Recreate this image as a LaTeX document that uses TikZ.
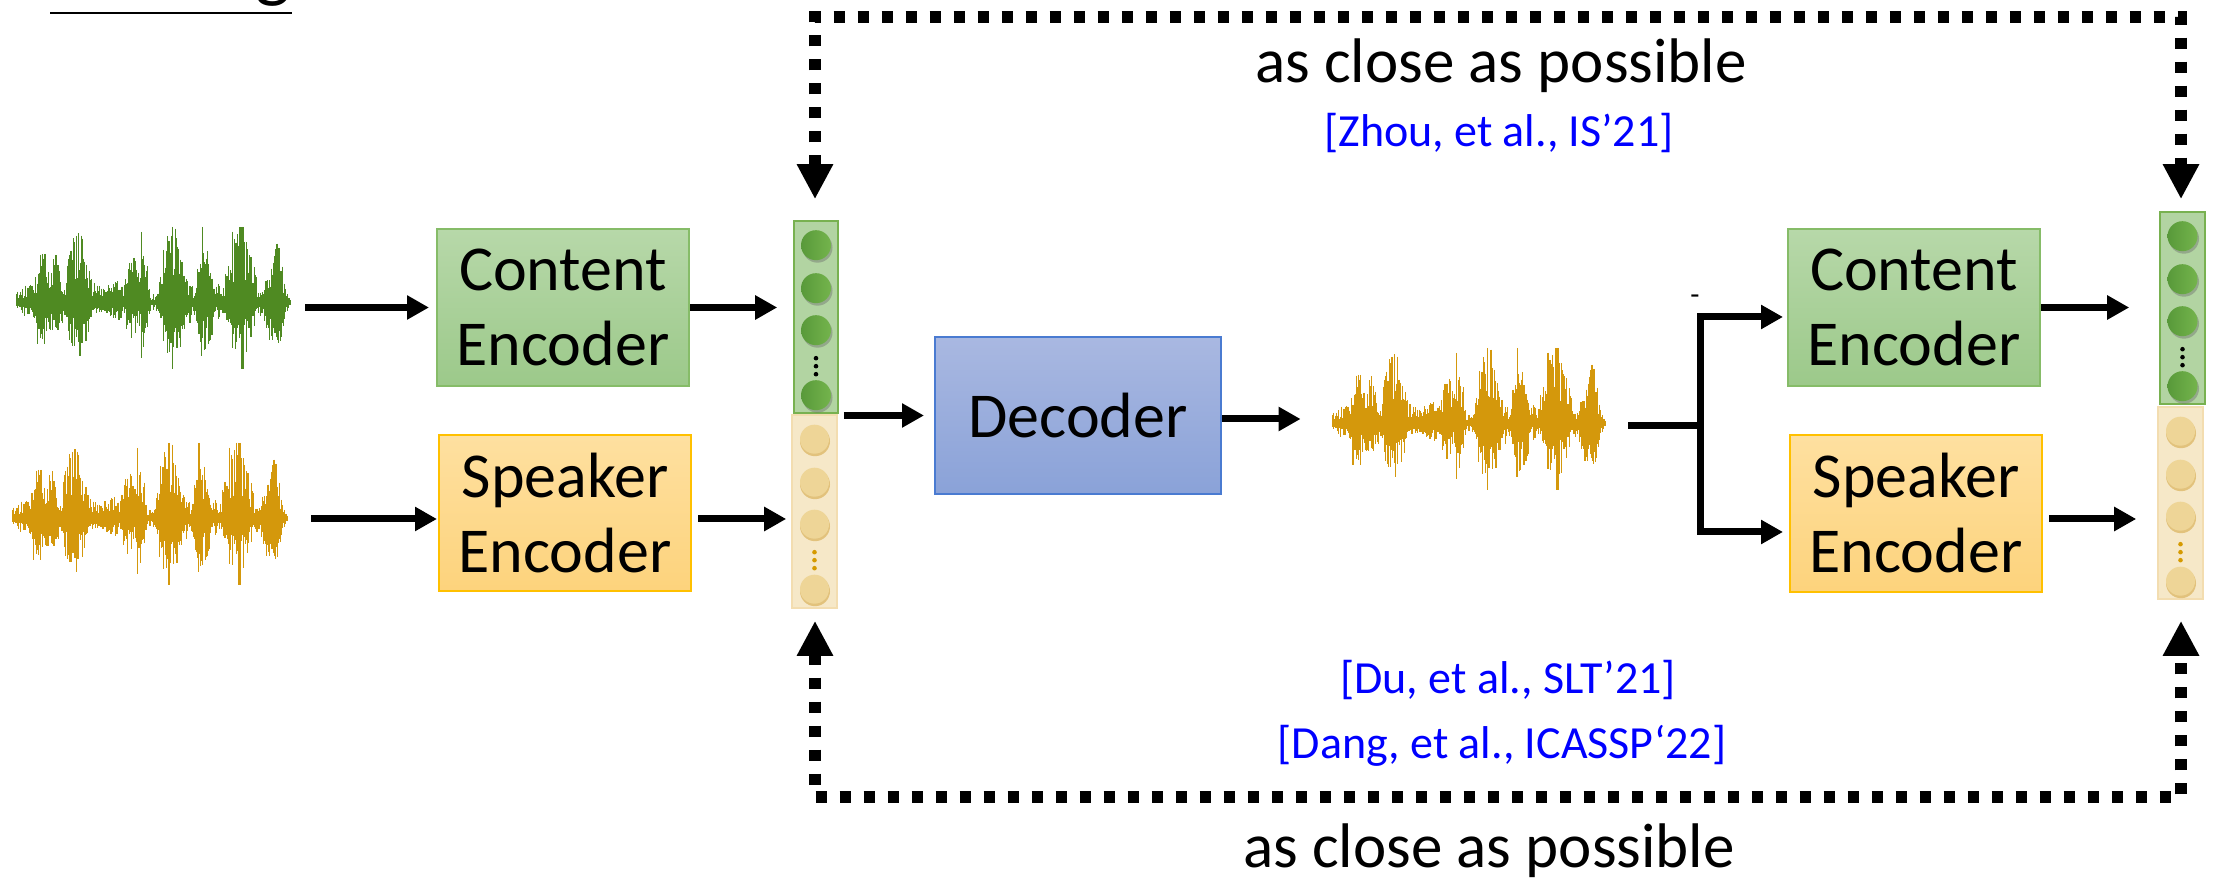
\documentclass[tikz,border=0pt]{standalone}
\usepackage{fontspec}
\setmainfont{Carlito}
\usetikzlibrary{arrows.meta,calc}

\definecolor{cencT}{HTML}{B7D8A9}
\definecolor{cencB}{HTML}{9CC98A}
\definecolor{cencL}{HTML}{86BC68}
\definecolor{sencT}{HTML}{FEE0A0}
\definecolor{sencB}{HTML}{FDD37C}
\definecolor{sencL}{HTML}{FFC000}
\definecolor{decT}{HTML}{A9B8E1}
\definecolor{decB}{HTML}{8AA2D8}
\definecolor{decL}{HTML}{4A7BD1}
\definecolor{vecGF}{HTML}{B2D4A2}
\definecolor{vecGL}{HTML}{78B150}
\definecolor{vecYF}{HTML}{F6E8C8}
\definecolor{vecYL}{HTML}{F3DDB0}
\definecolor{cellGl}{HTML}{58993A}
\definecolor{cellGr}{HTML}{74B44C}
\definecolor{cellY}{HTML}{EED597}
\definecolor{cellYd}{HTML}{E2C27C}
\definecolor{dotY}{HTML}{D69A00}
\definecolor{waveG}{HTML}{4F8A22}
\definecolor{waveY}{HTML}{D4980C}
\definecolor{citeblue}{HTML}{0000FF}

% envelope of the speech waveform, t in [0,1]
\pgfmathdeclarefunction{bmp}{3}{\pgfmathparse{max(0,1-((#1-#2)/#3)*((#1-#2)/#3))}}
\pgfmathdeclarefunction{wenv}{1}{\pgfmathparse{0.10
  +0.14*bmp(#1,0.05,0.06)+0.55*bmp(#1,0.10,0.035)+0.50*bmp(#1,0.145,0.025)
  +0.85*bmp(#1,0.225,0.055)+0.14*bmp(#1,0.30,0.03)+0.22*bmp(#1,0.36,0.04)
  +0.55*bmp(#1,0.42,0.03)+0.52*bmp(#1,0.465,0.025)+0.90*bmp(#1,0.57,0.06)
  +0.14*bmp(#1,0.635,0.02)+0.70*bmp(#1,0.69,0.042)+0.14*bmp(#1,0.745,0.02)
  +0.90*bmp(#1,0.82,0.06)+0.14*bmp(#1,0.885,0.02)+0.70*bmp(#1,0.945,0.042)}}

% #1 left x, #2 centre line y, #3 width, #4 colour
\newcommand\drawwave[4]{%
  \pgfmathsetseed{17}%
  \foreach \wi in {0,...,420}{%
    \pgfmathsetmacro\wt{\wi/420}%
    \pgfmathsetmacro\we{wenv(\wt)}%
    \pgfmathsetmacro\ra{rnd}%
    \pgfmathsetmacro\rb{rnd}%
    \pgfmathsetmacro\rc{rnd}%
    \pgfmathsetmacro\wsp{(\rc>0.94) ? 1.8 : 1}%
    \pgfmathsetmacro\wup{76*min(1,\we*(0.3+0.6*\ra*\ra+0.15*\ra)*\wsp)}%
    \pgfmathsetmacro\wdn{66*min(1,0.85*\we*(0.3+0.6*\rb*\rb+0.15*\rb)*\wsp)}%
    \draw[#4, line width=0.6pt] (#1+\wt*#3, #2-\wup) -- (#1+\wt*#3, #2+\wdn);
  }%
}

% cells of an embedding vector, placed below the node's top edge
\newcommand\greencells[1]{%
  \foreach \o in {25,68,110,175}{%
    \fill[black!60, opacity=0.4] ($(#1.north)+(1.5,\o+2.5)$) circle[radius=15];
    \shade[left color=cellGl, right color=cellGr] ($(#1.north)+(0,\o)$) circle[radius=15];
  }%
  \foreach \o in {138,146,154}{\fill[black] ($(#1.north)+(0,\o)$) circle[radius=2.3];}%
}
\newcommand\yellowcells[1]{%
  \foreach \o in {25,68,110,175}{%
    \fill[cellYd] ($(#1.north)+(0.5,\o+2)$) circle[radius=15];
    \fill[cellY] ($(#1.north)+(0,\o)$) circle[radius=14.5];
  }%
  \foreach \o in {138,146,154}{\fill[dotY] ($(#1.north)+(0,\o)$) circle[radius=2.3];}%
}

\begin{document}
\begin{tikzpicture}[x=0.5pt, y=-0.5pt,
  boxtext/.style={font=\fontsize{32}{37.5}\selectfont, align=center},
  encbox/.style={rectangle, line width=1pt, inner sep=0pt, boxtext},
  cbox/.style={encbox, draw=cencL, top color=cencT, bottom color=cencB},
  sbox/.style={encbox, draw=sencL, top color=sencT, bottom color=sencB},
  dbox/.style={encbox, draw=decL, top color=decT, bottom color=decB},
  gvec/.style={rectangle, draw=vecGL, fill=vecGF, line width=0.8pt, inner sep=0pt},
  yvec/.style={rectangle, draw=vecYL, fill=vecYF, line width=0.8pt, inner sep=0pt},
  wavebox/.style={rectangle, inner sep=0pt},
  arr/.style={line width=3.5pt, -{Triangle[length=11pt,width=11.5pt]}},
  bar/.style={line width=3.5pt},
  closeloop/.style={line width=6pt, dash pattern=on 5.75pt off 6.25pt,
    {Triangle[length=17.5pt,width=17pt]}-{Triangle[length=17.5pt,width=17pt]}},
  bigtext/.style={font=\fontsize{31.5}{36}\selectfont, inner sep=0pt},
  cite/.style={font=\fontsize{23}{27}\selectfont, text=citeblue, inner sep=0pt}]

\useasboundingbox (0,0) rectangle (2213,881);

% heading, mostly above the visible area
\node[anchor=base west, font=\fontsize{37.5}{40}\selectfont, inner sep=0pt] (title) at (50,-6) {Training};
\coordinate (ul) at (0,13);
\draw[line width=1.1pt] (title.base west |- ul) -- (title.base east |- ul);

% input waveforms
\node[wavebox, minimum width=136.5pt, minimum height=71pt] (w1) at (153.5,298) {};
\node[wavebox, minimum width=137pt, minimum height=71pt] (w2) at (150,514) {};
\node[wavebox, minimum width=136pt, minimum height=71pt] (w3) at (1469,419) {};
\drawwave{17}{303}{273}{waveG}
\drawwave{13}{519}{274}{waveY}
\drawwave{1333}{424}{272}{waveY}

% encoders and decoder
\node[cbox, minimum width=126pt, minimum height=78.5pt] (ce1) at (563,307.5) {Content\\Encoder};
\node[sbox, minimum width=126pt, minimum height=78pt] (se1) at (565,513) {Speaker\\Encoder};
\node[dbox, minimum width=143pt, minimum height=78.5pt] (dec) at (1078,415.5) {Decoder};
\node[cbox, minimum width=126pt, minimum height=78.5pt] (ce2) at (1914,307.5) {Content\\Encoder};
\node[sbox, minimum width=126pt, minimum height=78.5pt] (se2) at (1916,513.5) {Speaker\\Encoder};

% embedding vectors
\node[gvec, minimum width=22pt, minimum height=96pt] (vLg) at (816,317) {};
\node[yvec, minimum width=22.5pt, minimum height=96.5pt] (vLy) at (814.5,511.5) {};
\node[gvec, minimum width=22.5pt, minimum height=96pt] (vRg) at (2182.5,308) {};
\node[yvec, minimum width=22.5pt, minimum height=96pt] (vRy) at (2180.5,503) {};
\greencells{vLg}
\yellowcells{vLy}
\greencells{vRg}
\yellowcells{vRy}

% forward connections
\draw[arr, shorten <=7.5pt, shorten >=3.5pt] (w1.east |- ce1.west) -- (ce1.west);
\coordinate (se1in) at ($(se1.west)+(0,6)$);
\draw[arr, shorten <=12pt, shorten >=0.5pt] (w2.east |- se1in) -- (se1in);
\draw[arr, shorten >=8pt] (ce1.east) -- (ce1.east -| vLg.west);
\coordinate (se1out) at ($(se1.east)+(0,6)$);
\draw[arr, shorten <=3pt, shorten >=2.5pt] (se1out) -- (se1out -| vLy.west);
\draw[arr, shorten <=2.5pt, shorten >=5pt] (vLg.east |- dec.west) -- (dec.west);
\draw[arr, shorten >=16pt] (dec.east |- w3.west) -- (w3.west);

% branch to the second pair of encoders
\coordinate (split) at (1700,426);
\draw[bar, shorten <=11.5pt] (w3.east |- split) -- (split);
\coordinate (ce2in) at ($(ce2.west)+(0,9.5)$);
\coordinate (se2in) at ($(se2.west)+(0,18.5)$);
\draw[arr, shorten >=2pt, line join=miter] ($(split)+(0,1.75)$) |- (ce2in);
\draw[arr, shorten >=3pt, line join=miter] ($(split)+(0,-1.75)$) |- (se2in);
\node[font=\fontsize{15}{15}\selectfont, inner sep=0pt] (tick) at (1695,300) {-};

\draw[arr, shorten >=15pt] (ce2.east) -- (ce2.east -| vRg.west);
\coordinate (se2out) at ($(se2.east)+(0,5.5)$);
\draw[arr, shorten <=3pt, shorten >=10.5pt] (se2out) -- (se2out -| vRy.west);

% consistency loops between the two sets of embeddings
\coordinate (tipLg) at ($(vLg.north)+(-1,-21)$);
\coordinate (tipRg) at ($(vRg.north)+(-1.5,-12)$);
\coordinate (topline) at (0,17);
\draw[closeloop] (tipLg) -- (tipLg |- topline) -| (tipRg);

\coordinate (tipLy) at ($(vLy.south)+(0.5,12)$);
\coordinate (tipRy) at ($(vRy.south)+(0.5,21)$);
\coordinate (botline) at (0,797);
\draw[closeloop] (tipLy) -- (tipLy |- botline) -| (tipRy);

% labels
\node[bigtext, anchor=base] (acTop) at (1501,83) {as close as possible};
\node[cite, anchor=base] (refZ) at (1499,147) {[Zhou, et al., IS’21]};
\node[cite, anchor=base] (refD) at (1508,694) {[Du, et al., SLT’21]};
\node[cite, anchor=base] (refG) at (1502,759) {[Dang, et al., ICASSP‘22]};
\node[bigtext, anchor=base] (acBot) at (1489,868) {as close as possible};

\end{tikzpicture}
\end{document}
